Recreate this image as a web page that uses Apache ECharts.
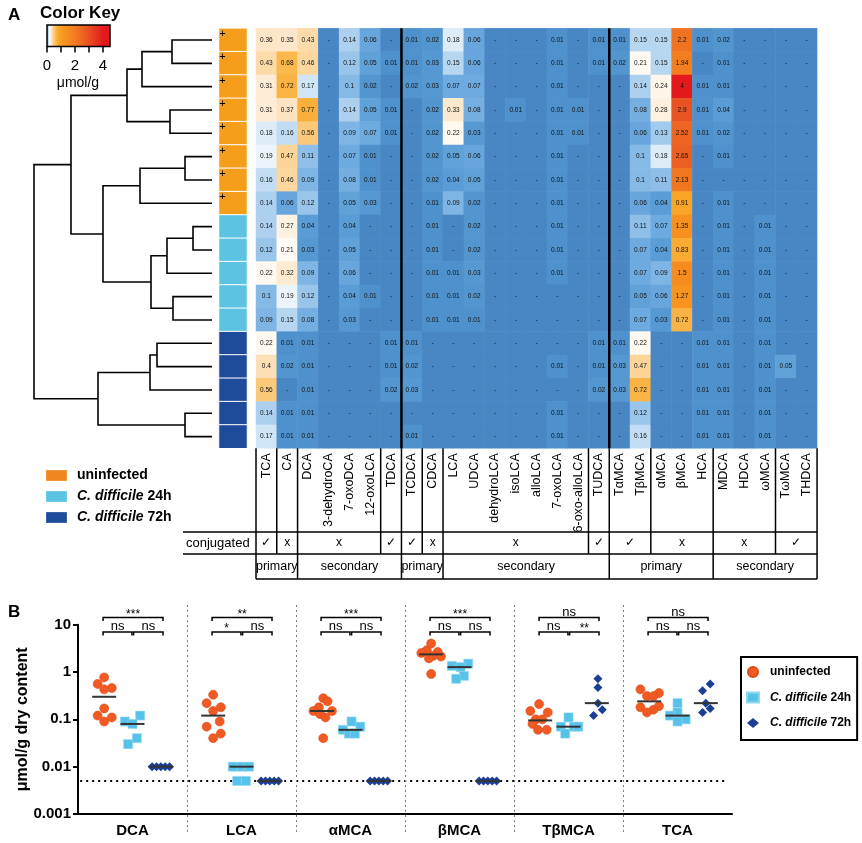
<!DOCTYPE html>
<html><head><meta charset="utf-8">
<script src="https://cdn.jsdelivr.net/npm/echarts/dist/echarts.min.js"></script>
<style>html,body{margin:0;padding:0;background:#fff}#c{width:862px;height:843px}</style>
</head><body><div id="c"></div>
<script>
// ---------------- DATA: panel A heatmap ----------------
const _ = null; // "-" = not detected
const columns = ['TCA','CA','DCA','3-dehydroCA','7-oxoDCA','12-oxoLCA','TDCA','TCDCA','CDCA','LCA','UDCA','dehydroLCA','isoLCA','alloLCA','7-oxoLCA','6-oxo-alloLCA','TUDCA','TαMCA','TβMCA','αMCA','βMCA','HCA','MDCA','HDCA','ωMCA','TωMCA','THDCA'];
const rowIds = ['1','2','3','4','5','6','7','8','9','10','11','12','13','14','15','16','17','18'];
const vTCA = [0.36,0.43,0.31,0.31,0.18,0.19,0.16,0.14,0.14,0.12,0.22,0.1,0.09,0.22,0.4,0.56,0.14,0.17];
const vCA = [0.35,0.68,0.72,0.37,0.16,0.47,0.46,0.06,0.27,0.21,0.32,0.19,0.15,0.01,0.02,_,0.01,0.01];
const vDCA = [0.43,0.46,0.17,0.77,0.56,0.11,0.09,0.12,0.04,0.03,0.09,0.12,0.08,0.01,0.01,0.01,0.01,0.01];
const v3dehydroCA = [_,_,_,_,_,_,_,_,_,_,_,_,_,_,_,_,_,_];
const v7oxoDCA = [0.14,0.12,0.1,0.14,0.09,0.07,0.08,0.05,0.04,0.05,0.06,0.04,0.03,_,_,_,_,_];
const v12oxoLCA = [0.06,0.05,0.02,0.05,0.07,0.01,0.01,0.03,_,_,_,0.01,_,_,_,_,_,_];
const vTDCA = [_,0.01,_,0.01,0.01,_,_,_,_,_,_,_,_,0.01,0.01,0.02,_,_];
const vTCDCA = [0.01,0.01,0.02,_,_,_,_,_,_,_,_,_,_,0.01,0.02,0.03,_,0.01];
const vCDCA = [0.02,0.03,0.03,0.02,0.02,0.02,0.02,0.01,0.01,0.01,0.01,0.01,0.01,_,_,_,_,_];
const vLCA = [0.18,0.15,0.07,0.33,0.22,0.05,0.04,0.09,_,_,0.01,0.01,0.01,_,_,_,_,_];
const vUDCA = [0.06,0.06,0.07,0.08,0.03,0.06,0.05,0.02,0.02,0.02,0.03,0.02,0.01,_,_,_,_,_];
const vDehydroLCA = [_,_,_,_,_,_,_,_,_,_,_,_,_,_,_,_,_,_];
const vIsoLCA = [_,_,_,0.01,_,_,_,_,_,_,_,_,_,_,_,_,_,_];
const vAlloLCA = [_,_,_,_,_,_,_,_,_,_,_,_,_,_,_,_,_,_];
const v7oxoLCA = [0.01,0.01,0.01,0.01,0.01,0.01,0.01,0.01,0.01,0.01,0.01,_,_,_,0.01,_,0.01,0.01];
const v6oxoAlloLCA = [_,_,_,0.01,0.01,_,_,_,_,_,_,_,_,_,_,_,_,_];
const vTUDCA = [0.01,0.01,_,_,_,_,_,_,_,_,_,_,_,0.01,0.01,0.02,_,_];
const vTaMCA = [0.01,0.02,_,_,_,_,_,_,_,_,_,_,_,0.01,0.03,0.03,_,_];
const vTbMCA = [0.15,0.21,0.14,0.08,0.06,0.1,0.1,0.06,0.11,0.07,0.07,0.05,0.07,0.22,0.47,0.72,0.12,0.16];
const vaMCA = [0.15,0.15,0.24,0.28,0.13,0.18,0.11,0.04,0.07,0.04,0.09,0.06,0.03,_,_,_,_,_];
const vbMCA = [2.2,1.94,4,2.9,2.52,2.65,2.13,0.91,1.35,0.83,1.5,1.27,0.72,_,_,_,_,_];
const vHCA = [0.01,_,0.01,0.01,0.01,_,_,_,_,_,_,_,_,0.01,0.01,0.01,0.01,0.01];
const vMDCA = [0.02,0.01,0.01,0.04,0.02,0.01,_,0.01,0.01,0.01,0.01,0.01,0.01,0.01,0.01,0.01,0.01,0.01];
const vHDCA = [_,_,_,_,_,_,_,_,_,_,_,_,_,_,_,_,_,_];
const vwMCA = [_,_,_,_,_,_,_,_,0.01,0.01,0.01,0.01,0.01,0.01,0.01,0.01,0.01,0.01];
const vTwMCA = [_,_,_,_,_,_,_,_,_,_,_,_,_,_,0.05,_,_,_];
const vTHDCA = [_,_,_,_,_,_,_,_,_,_,_,_,_,_,_,_,_,_];
const columnValues = [vTCA,vCA,vDCA,v3dehydroCA,v7oxoDCA,v12oxoLCA,vTDCA,vTCDCA,vCDCA,vLCA,vUDCA,vDehydroLCA,vIsoLCA,vAlloLCA,v7oxoLCA,v6oxoAlloLCA,vTUDCA,vTaMCA,vTbMCA,vaMCA,vbMCA,vHCA,vMDCA,vHDCA,vwMCA,vTwMCA,vTHDCA];

const groupNames = ['uninfected','C. difficile 24h','C. difficile 72h'];
const sampleGroup = [0,0,0,0,0,0,0,0,1,1,1,1,1,2,2,2,2,2];
const rowMarks = ['+','+','+','+','+','+','+','+','','','','','','','','','',''];
// dendrogram merges: [childA, childB, height]; leaves 0..17, new nodes numbered from 18
const dendroMerges = [[0,1,40],[18,2,70],[3,4,42],[19,20,85],[5,6,27],[22,7,72],[8,9,19],[24,10,45],[11,12,39],[25,26,61],[23,27,109],[21,28,141],[13,14,55],[30,15,62],[16,17,27],[31,32,114],[29,33,178]];
const conjGroups = [[0,1,'✓'],[1,2,'x'],[2,6,'x'],[6,7,'✓'],[7,8,'✓'],[8,9,'x'],[9,16,'x'],[16,17,'✓'],[17,19,'✓'],[19,22,'x'],[22,25,'x'],[25,27,'✓']];
const originGroups = [[0,2,'primary'],[2,7,'secondary'],[7,9,'primary'],[9,17,'secondary'],[17,22,'primary'],[22,27,'secondary']];
const thickSeparators = [7,17];
const keyTicks = [0,1,2,3,4];
const keyLabels = [0,2,4];

// ---------------- DATA: panel B ----------------
const bCategories = ['DCA','LCA','αMCA','βMCA','TβMCA','TCA'];
const uninfVals = [
  [0.77,0.56,0.46,0.43,0.17,0.12,0.11,0.09],
  [0.33,0.22,0.18,0.15,0.09,0.07,0.05,0.04],
  [0.28,0.24,0.18,0.15,0.15,0.13,0.11,0.04],
  [4.0,2.9,2.65,2.52,2.2,2.13,1.94,0.91],
  [0.21,0.15,0.14,0.1,0.1,0.08,0.06,0.06],
  [0.43,0.36,0.31,0.31,0.19,0.18,0.16,0.14]
];
const cd24Vals = [
  [0.12,0.09,0.08,0.04,0.03],
  [0.01,0.01,0.01,0.005,0.005],
  [0.09,0.07,0.06,0.05,0.05],
  [1.5,1.35,1.27,0.83,0.72],
  [0.11,0.07,0.07,0.07,0.05],
  [0.22,0.14,0.12,0.1,0.09]
];
const cd72Vals = [
  [0.01,0.01,0.01,0.01,0.01],
  [0.005,0.005,0.005,0.005,0.005],
  [0.005,0.005,0.005,0.005,0.005],
  [0.005,0.005,0.005,0.005,0.005],
  [0.72,0.47,0.22,0.16,0.12],
  [0.56,0.4,0.22,0.17,0.14]
];
const medUninf = [0.30,0.12,0.15,2.36,0.095,0.24];
const med24 = [0.08,0.01,0.06,1.27,0.07,0.12];
const med72 = [0.01,0.005,0.005,0.005,0.22,0.22];
const sigTop = ['***','**','***','***','ns','ns'];
const sigLeft = ['ns','*','ns','ns','ns','ns'];
const sigRight = ['ns','ns','ns','ns','**','ns'];
const detectionLimit = 0.005;

// ---------------- LAYOUT (positions / styles) ----------------
const uninfJitter = [
  [-0.26,-0.32,-0.19,-0.26,-0.26,-0.32,-0.19,-0.26],
  [-0.26,-0.32,-0.19,-0.26,-0.20,-0.32,-0.19,-0.26],
  [-0.25,-0.21,-0.29,-0.34,-0.17,-0.28,-0.23,-0.25],
  [-0.26,-0.30,-0.20,-0.35,-0.24,-0.17,-0.28,-0.26],
  [-0.27,-0.35,-0.19,-0.30,-0.24,-0.33,-0.28,-0.20],
  [-0.34,-0.17,-0.28,-0.22,-0.17,-0.34,-0.22,-0.28]
];
const cd24Jitter = [
  [0.07,-0.07,0,0.04,-0.04],
  [-0.08,0,0.07,-0.04,0.04],
  [0.01,0.09,-0.07,-0.015,0.04],
  [0.08,-0.07,0.01,0.04,-0.03],
  [0,-0.07,0.05,0.09,-0.03],
  [0,0,-0.07,0.075,0]
];
const cd72Jitter = [
  [0.18,0.22,0.26,0.30,0.34],
  [0.18,0.22,0.26,0.30,0.34],
  [0.18,0.22,0.26,0.30,0.34],
  [0.18,0.22,0.26,0.30,0.34],
  [0.27,0.27,0.27,0.31,0.23],
  [0.30,0.23,0.26,0.30,0.23]
];
const groupOffset = [-0.26, 0, 0.26];

const FONT = "'Liberation Sans', Arial, Helvetica, sans-serif";
const HM_LEFT = 256, HM_TOP = 28.33, COL_W = 20.78, ROW_H = 23.33;
const HM_W = COL_W * columns.length, HM_H = ROW_H * rowIds.length, HM_BOTTOM = HM_TOP + HM_H;
const TAB_Y0 = 532, TAB_Y1 = 554, TAB_Y2 = 579;
const annoColors = ['#f59e1c','#5cc4e2','#1f4b9b'];
const legendAColors = ['#f0861f','#5cc4e2','#1f4b9b'];
const colorStops = [[0,'#4886c4'],[0.01,'#4e91cc'],[0.04,'#5a9cd5'],[0.07,'#6daadf'],[0.1,'#86bae6'],[0.13,'#a2caed'],[0.16,'#c2ddf3'],[0.19,'#ecf4fb'],[0.21,'#fffaf3'],[0.3,'#feeed9'],[0.37,'#fde3c2'],[0.45,'#fdd8a0'],[0.56,'#fcc87a'],[0.7,'#fbb546'],[0.9,'#f9a526'],[1.3,'#f7931d'],[2.0,'#f27c20'],[2.6,'#ed6122'],[2.9,'#e95323'],[4.0,'#e4191c'],[4.5,'#e0141c']];
const KEY_MAX = 4.5;

function hex(h){return [parseInt(h.substr(1,2),16),parseInt(h.substr(3,2),16),parseInt(h.substr(5,2),16)];}
function heatColor(v){
  if (v == null) v = 0;
  for (let i = 1; i < colorStops.length; i++) {
    if (v <= colorStops[i][0]) {
      const [v0,c0] = colorStops[i-1], [v1,c1] = colorStops[i];
      const t = (v - v0) / (v1 - v0), a = hex(c0), b = hex(c1);
      return 'rgb(' + a.map((x,k)=>Math.round(x + (b[k]-x)*t)).join(',') + ')';
    }
  }
  return colorStops[colorStops.length-1][1];
}

const hmData = [];
columnValues.forEach((col, c) => col.forEach((v, r) => {
  hmData.push({value:[c, r, v == null ? 0 : v], txt: v == null ? '-' : String(v), itemStyle:{color: heatColor(v)}});
}));
const annoData = sampleGroup.map((g, r) => ({value:[0, r, g], mark: rowMarks[r], itemStyle:{color: annoColors[g]}}));

const nodeY = sampleGroup.map((g,i)=>i), nodeH = sampleGroup.map(()=>0);
const dendroSegs = [];
dendroMerges.forEach(([a,b,h]) => {
  dendroSegs.push({coords:[[nodeH[a],nodeY[a]],[h,nodeY[a]],[h,nodeY[b]],[nodeH[b],nodeY[b]]]});
  nodeY.push((nodeY[a]+nodeY[b])/2); nodeH.push(h);
});

function scatterData(vals, jit){
  const out = [];
  vals.forEach((arr, c) => arr.forEach((v, k) => out.push([c + jit[c][k], v])));
  return out;
}
const medData = [];
[medUninf, med24, med72].forEach((arr, g) => arr.forEach((v, c) => medData.push([c, g, v])));

// ---------------- graphics ----------------
const G = [];
function txt(x, y, s, opt){
  G.push({type:'text', x, y, z:100, silent:true, style:Object.assign({text:s, fill:'#000', font:'13px ' + FONT, textAlign:'left', align:'left', textVerticalAlign:'middle', verticalAlign:'middle'}, opt||{})});
}
function line(x1,y1,x2,y2,w){
  G.push({type:'line', z:100, silent:true, shape:{x1,y1,x2,y2}, style:{stroke:'#000', lineWidth:w||1.5}});
}
txt(8, 15, 'A', {font:'bold 17px ' + FONT});
txt(8, 612, 'B', {font:'bold 17px ' + FONT});
txt(40, 13, 'Color Key', {font:'bold 17px ' + FONT});
const KEY_X = 47, KEY_W = 63, KEY_Y = 25, KEY_H = 21.5;
G.push({type:'rect', z:100, shape:{x:KEY_X, y:KEY_Y, width:KEY_W, height:KEY_H},
  style:{fill:{type:'linear', x:0, y:0, x2:1, y2:0, colorStops: colorStops.map(s=>({offset:s[0]/KEY_MAX, color:s[1]}))}, stroke:'#000', lineWidth:1.5}});
keyTicks.forEach(t => line(KEY_X + t*KEY_W/KEY_MAX, KEY_Y+KEY_H, KEY_X + t*KEY_W/KEY_MAX, KEY_Y+KEY_H+6, 1.5));
keyLabels.forEach(t => txt(KEY_X + t*KEY_W/KEY_MAX, 66, String(t), {font:'15px ' + FONT, textAlign:'center', align:'center'}));
txt(78, 83, 'μmol/g', {font:'14px ' + FONT, textAlign:'center', align:'center'});
[475.5, 496.5, 517.5].forEach((cy, g) => {
  G.push({type:'rect', z:100, shape:{x:46, y:cy-5.5, width:21, height:11}, style:{fill:legendAColors[g], stroke:'rgba(255,255,255,0.5)', lineWidth:0.5}});
  const s = groupNames[g].replace('C. difficile', '{i|C. difficile}');
  txt(77, cy, s, {font:'bold 14px ' + FONT, rich:{i:{fontStyle:'italic', fontWeight:'bold', fontSize:14, fontFamily:FONT}}});
});
thickSeparators.forEach(k => line(HM_LEFT + k*COL_W, HM_TOP, HM_LEFT + k*COL_W, HM_BOTTOM, 2.5));
const conjBounds = [0]; conjGroups.forEach(g => conjBounds.push(g[1]));
conjBounds.forEach(k => line(HM_LEFT + k*COL_W, HM_BOTTOM, HM_LEFT + k*COL_W, TAB_Y1, 1.5));
const origBounds = [0]; originGroups.forEach(g => origBounds.push(g[1]));
origBounds.forEach(k => line(HM_LEFT + k*COL_W, TAB_Y1, HM_LEFT + k*COL_W, TAB_Y2, 1.5));
line(183, TAB_Y0, HM_LEFT + HM_W, TAB_Y0, 1.5);
line(183, TAB_Y1, HM_LEFT + HM_W, TAB_Y1, 1.5);
line(HM_LEFT, TAB_Y2, HM_LEFT + HM_W, TAB_Y2, 1.5);
txt(186, (TAB_Y0+TAB_Y1)/2, 'conjugated', {font:'13px ' + FONT});
conjGroups.forEach(([a,b,s]) => txt(HM_LEFT + (a+b)/2*COL_W, (TAB_Y0+TAB_Y1)/2, s, {font:'12px ' + FONT, textAlign:'center', align:'center'}));
originGroups.forEach(([a,b,s]) => txt(HM_LEFT + (a+b)/2*COL_W, (TAB_Y1+TAB_Y2)/2, s, {font:'12.5px ' + FONT, textAlign:'center', align:'center'}));

// ---------------- chart ----------------
const chart = echarts.init(document.getElementById('c'));
const hidden = {show:false};
chart.setOption({
  animation:false,
  backgroundColor:'#fff',
  textStyle:{fontFamily:FONT},
  grid:[
    {left:34, top:HM_TOP, width:178, height:HM_H, outerBoundsMode:'none'},
    {left:219, top:HM_TOP, width:28, height:HM_H, outerBoundsMode:'none'},
    {left:HM_LEFT, top:HM_TOP, width:HM_W, height:HM_H, outerBoundsMode:'none'},
    {left:78, top:624.7, width:654, height:189.3, outerBoundsMode:'none'},
    {left:78, top:605, width:654, height:227, outerBoundsMode:'none'}
  ],
  xAxis:[
    {type:'value', gridIndex:0, min:0, max:178, inverse:true, show:false},
    {type:'category', gridIndex:1, data:['group'], show:false},
    {type:'category', gridIndex:2, data:columns, axisLine:hidden, axisTick:hidden, splitLine:hidden,
      axisLabel:{rotate:90, interval:0, fontSize:12.5, color:'#000', margin:5, fontFamily:FONT}},
    {type:'category', gridIndex:3, data:bCategories, axisLine:{onZero:false, lineStyle:{color:'#000', width:2}},
      axisTick:{alignWithLabel:true, length:5, lineStyle:{color:'#000', width:2}},
      axisLabel:{fontWeight:'bold', fontSize:15, color:'#000', margin:9, fontFamily:FONT}, splitLine:hidden},
    {type:'value', gridIndex:3, min:-0.5, max:5.5, show:false},
    {type:'value', gridIndex:4, min:-0.5, max:5.5, show:false}
  ],
  yAxis:[
    {type:'value', gridIndex:0, min:-0.5, max:17.5, inverse:true, show:false},
    {type:'category', gridIndex:1, data:rowIds, inverse:true, show:false},
    {type:'category', gridIndex:2, data:rowIds, inverse:true, show:false},
    {type:'log', gridIndex:3, min:0.001, max:10, logBase:10, splitNumber:4,
      axisLine:{show:true, onZero:false, lineStyle:{color:'#000', width:2}},
      axisTick:{show:true, length:5, lineStyle:{color:'#000', width:2}},
      axisLabel:{fontWeight:'bold', fontSize:15, color:'#000', margin:7, fontFamily:FONT,
        formatter:v => String(+(+v).toPrecision(1))},
      splitLine:hidden, minorTick:hidden,
      name:'μmol/g dry content', nameLocation:'middle', nameGap:47, nameMoveOverlap:false,
      nameTextStyle:{fontWeight:'bold', fontSize:16, color:'#000', fontFamily:FONT}},
    {type:'value', gridIndex:4, min:0, max:1, show:false}
  ],
  legend:{
    data:groupNames, orient:'vertical', left:741, top:657, selectedMode:false,
    borderColor:'#000', borderWidth:2, padding:[9,6,11,5], itemWidth:12, itemHeight:10, itemGap:13.5,
    textStyle:{fontWeight:'bold', fontSize:12, color:'#000', fontFamily:FONT, padding:[0,0,0,6],
      rich:{i:{fontStyle:'italic', fontWeight:'bold', fontSize:12, fontFamily:FONT, color:'#000'}}},
    formatter:n => n.replace('C. difficile', '{i|C. difficile}')
  },
  series:[
    {type:'lines', coordinateSystem:'cartesian2d', xAxisIndex:0, yAxisIndex:0, polyline:true, silent:true,
      lineStyle:{color:'#000', width:1.6, opacity:1}, data:dendroSegs},
    {type:'heatmap', xAxisIndex:1, yAxisIndex:1, data:annoData, silent:true,
      itemStyle:{borderColor:'#fff', borderWidth:1},
      label:{show:true, position:'insideTopLeft', distance:1, formatter:p => p.data.mark, fontSize:11, color:'#000', fontFamily:FONT},
      emphasis:{disabled:true}},
    {type:'heatmap', xAxisIndex:2, yAxisIndex:2, data:hmData, silent:true,
      label:{show:true, formatter:p => p.data.txt, fontSize:6.5, color:'#111', fontFamily:FONT},
      emphasis:{disabled:true}},
    {type:'line', xAxisIndex:5, yAxisIndex:4, data:[[0,0]], showSymbol:false, silent:true, lineStyle:{opacity:0},
      markLine:{silent:true, symbol:'none', label:{show:false},
        lineStyle:{type:[2,3], color:'#7a7a7a', width:1},
        data:bCategories.slice(1).map((c,i)=>({xAxis:i+0.5}))}},
    {type:'line', xAxisIndex:4, yAxisIndex:3, silent:true, showSymbol:false, z:2,
      lineStyle:{type:[2,4], color:'#000', width:2},
      data:[[-0.48, detectionLimit],[5.43, detectionLimit]]},
    {type:'scatter', name:groupNames[0], xAxisIndex:4, yAxisIndex:3, symbol:'circle', symbolSize:9, z:3,
      itemStyle:{color:'#f15a22', borderColor:'#dc4a18', borderWidth:0.6, opacity:1},
      data:scatterData(uninfVals, uninfJitter)},
    {type:'scatter', name:groupNames[1], xAxisIndex:4, yAxisIndex:3, symbol:'rect', symbolSize:9, z:3,
      itemStyle:{color:'#56c2ea', borderColor:'#8fd7f1', borderWidth:0.6, opacity:1},
      data:scatterData(cd24Vals, cd24Jitter)},
    {type:'scatter', name:groupNames[2], xAxisIndex:4, yAxisIndex:3, symbol:'diamond', symbolSize:9, z:3,
      itemStyle:{color:'#1c3f94', opacity:1},
      data:scatterData(cd72Vals, cd72Jitter)},
    {type:'custom', xAxisIndex:4, yAxisIndex:3, z:4, silent:true, data:medData, encode:{x:0, y:2},
      renderItem:(params, api) => {
        const c = api.value(0) + groupOffset[api.value(1)], v = api.value(2);
        const p1 = api.coord([c-0.11, v]), p2 = api.coord([c+0.11, v]);
        return {type:'line', shape:{x1:p1[0], y1:p1[1], x2:p2[0], y2:p2[1]}, style:{stroke:'#333', lineWidth:2}};
      }},
    {type:'custom', xAxisIndex:4, yAxisIndex:3, z:5, silent:true, clip:false,
      data:bCategories.map((c,i)=>[i, 10]), encode:{x:0, y:1},
      renderItem:(params, api) => {
        const i = params.dataIndex, c = api.value(0);
        const top = api.coord([c, 10])[1];
        const xA = api.coord([c-0.27, 10])[0], xM1 = api.coord([c-0.005, 10])[0];
        const xM2 = api.coord([c+0.01, 10])[0], xB = api.coord([c+0.28, 10])[0];
        const yT = top - 7.2, yL = top + 7.3, d = 3.5;
        const ls = {stroke:'#000', lineWidth:1.5, fill:null};
        const lab = (x, y, s) => ({type:'text', style:{text:s, x:x, y:y + (s.indexOf('*')>=0 ? 3 : 0),
          textAlign:'center', align:'center', textVerticalAlign:'middle', verticalAlign:'middle',
          font:(s.indexOf('*')>=0 ? '12px ' : '13px ') + FONT, fill:'#000'}});
        return {type:'group', children:[
          {type:'polyline', shape:{points:[[xA,yT+d],[xA,yT],[xB,yT],[xB,yT+d]]}, style:ls},
          {type:'polyline', shape:{points:[[xA,yL+d],[xA,yL],[xM1,yL],[xM1,yL+d]]}, style:ls},
          {type:'polyline', shape:{points:[[xM2,yL+d],[xM2,yL],[xB,yL],[xB,yL+d]]}, style:ls},
          lab((xA+xB)/2, yT-5.5, sigTop[i]),
          lab((xA+xM1)/2, yL-6, sigLeft[i]),
          lab((xM2+xB)/2, yL-6, sigRight[i])
        ]};
      }}
  ],
  graphic:{elements:G}
});
</script>
</body></html>
